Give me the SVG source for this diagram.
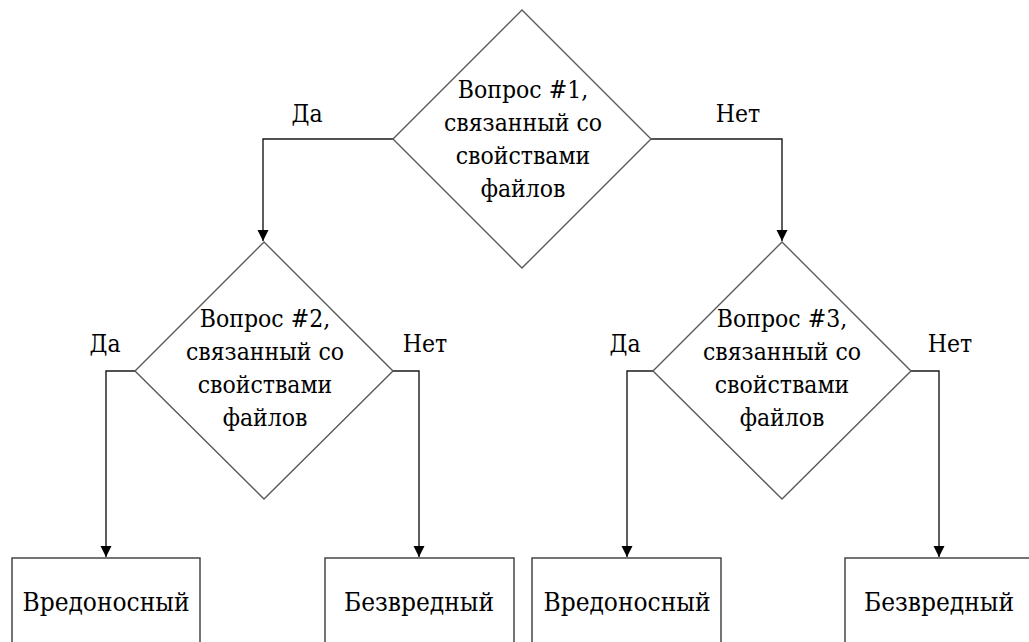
<svg xmlns="http://www.w3.org/2000/svg" width="1029" height="642" viewBox="0 0 1029 642">
  <style>
    .shape { fill: #ffffff; stroke: #595959; stroke-width: 1.4; }
    .box { fill: #ffffff; stroke: #3a3a3a; stroke-width: 1.4; }
    .wire { fill: none; stroke: #1a1a1a; stroke-width: 1.4; }
    text { font-family: "DejaVu Serif Condensed", "DejaVu Serif", serif; font-size: 24.5px; fill: #000000; text-anchor: middle; }
    .big { font-size: 26px; }
  </style>
  <defs>
    <marker id="arrow" markerWidth="11" markerHeight="13" refX="11" refY="6.5" orient="auto" markerUnits="userSpaceOnUse">
      <path d="M0,1 L11,6.5 L0,12 Z" fill="#000000"/>
    </marker>
  </defs>
  <rect width="1029" height="642" fill="#ffffff"/>

  <!-- connectors -->
  <g id="connectors">
    <path class="wire" d="M393,139 H263 V241" marker-end="url(#arrow)"/>
    <path class="wire" d="M651,139 H782 V241" marker-end="url(#arrow)"/>
    <path class="wire" d="M135,371 H106 V557" marker-end="url(#arrow)"/>
    <path class="wire" d="M393,371 H419 V557" marker-end="url(#arrow)"/>
    <path class="wire" d="M653,371 H627 V557" marker-end="url(#arrow)"/>
    <path class="wire" d="M911,371 H939 V557" marker-end="url(#arrow)"/>
    <text x="307" y="122">Да</text>
    <text x="738" y="122">Нет</text>
    <text x="105" y="352">Да</text>
    <text x="425" y="352">Нет</text>
    <text x="625" y="352">Да</text>
    <text x="950" y="352">Нет</text>
  </g>

  <!-- decision 1 -->
  <g id="q1">
    <polygon class="shape" points="522,10 651,139 522,268 393,139"/>
    <text x="523" y="98">Вопрос #1,</text>
    <text x="523" y="131">связанный со</text>
    <text x="523" y="164">свойствами</text>
    <text x="523" y="197">файлов</text>
  </g>

  <!-- decision 2 -->
  <g id="q2">
    <polygon class="shape" points="264,242 393,371 264,499 135,371"/>
    <text x="265" y="327">Вопрос #2,</text>
    <text x="265" y="360">связанный со</text>
    <text x="265" y="393">свойствами</text>
    <text x="265" y="426">файлов</text>
  </g>

  <!-- decision 3 -->
  <g id="q3">
    <polygon class="shape" points="782,242 911,371 782,499 653,371"/>
    <text x="782" y="327">Вопрос #3,</text>
    <text x="782" y="360">связанный со</text>
    <text x="782" y="393">свойствами</text>
    <text x="782" y="426">файлов</text>
  </g>

  <!-- outcomes -->
  <g id="r1">
    <rect class="box" x="12" y="558" width="188" height="110"/>
    <text class="big" x="106" y="611">Вредоносный</text>
  </g>
  <g id="r2">
    <rect class="box" x="325" y="558" width="189" height="110"/>
    <text class="big" x="419" y="611">Безвредный</text>
  </g>
  <g id="r3">
    <rect class="box" x="532" y="558" width="189" height="110"/>
    <text class="big" x="627" y="611">Вредоносный</text>
  </g>
  <g id="r4">
    <rect class="box" x="845" y="558" width="189" height="110"/>
    <text class="big" x="939" y="611">Безвредный</text>
  </g>
</svg>
